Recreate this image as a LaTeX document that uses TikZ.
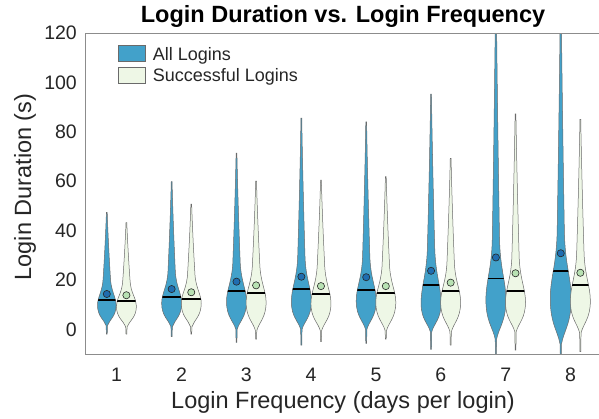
\documentclass[tikz,border=0pt]{standalone}
\usepackage{fontspec}
\setmainfont{Liberation Sans}
\definecolor{vblue}{HTML}{42A1CA}
\definecolor{vgreen}{HTML}{EEF7E6}
\definecolor{dblue}{HTML}{1F6DB0}
\definecolor{dgreen}{HTML}{B8E2B3}
\definecolor{axgray}{HTML}{8C8C8C}
\definecolor{vedge}{HTML}{6A6A6A}
\definecolor{txt}{HTML}{262626}
\newcommand\vcalc[9]{%
  \pgfmathsetmacro\yT{33+(120-#1)*2.4692}%
  \pgfmathsetmacro\yB{33+(120-#2)*2.4692}%
  \pgfmathsetmacro\yW{33+(120-#3)*2.4692}%
  \pgfmathsetmacro\hh{#4}%
  \pgfmathsetmacro\yN{33+(120-#5)*2.4692}%
  \pgfmathsetmacro\yP{33+(120-#6)*2.4692}%
  \pgfmathsetmacro\yM{33+(120-#7)*2.4692}%
  \pgfmathsetmacro\yA{33+(120-#8)*2.4692}%
  \pgfmathsetmacro\dP{\yP-\yW}%
  \pgfmathsetmacro\dN{\yW-\yN}%
  \pgfmathsetmacro\dT{\yN-\yT}%
  \def\nh{3.6}%
  \def\vp{(\cx+0.4,\yB) -- (\cx+0.7,\yP)
    .. controls (\cx+0.3*\hh,\yP-0.3*\dP) and (\cx+\hh,\yW+0.55*\dP) .. (\cx+\hh,\yW)
    .. controls (\cx+\hh,\yW-0.3*\dN) and (\cx+\nh+0.05*\hh,\yN+0.5*\dN) .. (\cx+\nh,\yN)
    .. controls (\cx+0.6*\nh,\yN-0.35*\dT) and (\cx+0.9,\yT+0.25*\dT) .. (\cx+0.4,\yT)
    -- (\cx-0.4,\yT)
    .. controls (\cx-0.9,\yT+0.25*\dT) and (\cx-0.6*\nh,\yN-0.35*\dT) .. (\cx-\nh,\yN)
    .. controls (\cx-\nh-0.05*\hh,\yN+0.5*\dN) and (\cx-\hh,\yW-0.3*\dN) .. (\cx-\hh,\yW)
    .. controls (\cx-\hh,\yW+0.55*\dP) and (\cx-0.3*\hh,\yP-0.3*\dP) .. (\cx-0.7,\yP)
    -- (\cx-0.4,\yB) -- cycle}%
}
\begin{document}
\begin{tikzpicture}[x=1pt,y=-1pt,
  violinedge/.style={draw=vedge,line width=0.5},
  medline/.style={black,line width=1.8},
  meandot/.style={draw=black!85,line width=0.6},
  axisline/.style={axgray,line width=0.8},
  ticklab/.style={inner sep=0,text=txt,font=\fontsize{19.5}{20}\selectfont},
  axlab/.style={inner sep=0,text=txt,font=\fontsize{23.5}{24}\selectfont},
  legtext/.style={inner sep=0,anchor=base west,text=txt,font=\fontsize{18}{19}\selectfont},
  legbox/.style={draw=vedge,line width=0.6}]
\useasboundingbox (0,0) rectangle (599,418);
\fill[white] (0,0) rectangle (599,418);
\coordinate (tl) at (85,33);
\coordinate (bl) at (85,354);
\coordinate (tr) at (599,33);
\coordinate (br) at (599,354);
\begin{scope}
\clip (tl) rectangle (br);
% All logins
\foreach \i/\t/\b/\w/\h/\n/\p/\m/\a in {
 1/47.4/-1.9/9.8/9.3/21/1.5/11.9/14.3,
 2/59.8/-3/10.6/10/24/1/13/16.3,
 3/71.4/-5.3/11.2/10/28/0/15.6/19.3,
 4/85.5/-6.4/11.2/10/30/0/16.2/21.3,
 5/84/-5.7/11.5/10/30/0/15.9/21.1,
 6/95.2/-8.1/10.5/10/34/-1/17.9/23.7,
 7/135/-12/12/10/37/-4/20.6/29.1,
 8/135/-12/12.5/10.5/40/-6/23.7/30.8}{
  \pgfmathsetmacro\cx{116.6+(\i-1)*64.85-9.8}
  \vcalc{\t}{\b}{\w}{\h}{\n}{\p}{\m}{\a}{}
  \path[fill=vblue,violinedge] \vp;
  \begin{scope}\clip \vp; \draw[medline] (\cx-15,\yM) -- (\cx+15,\yM);\end{scope}
  \node[circle,minimum size=7.2,inner sep=0,fill=dblue,meandot] (ma\i) at (\cx,\yA) {};
}
% Successful logins
\foreach \i/\t/\b/\w/\h/\n/\p/\m/\a in {
 1/43.2/-1.9/9.4/10/20/1/11.6/13.8,
 2/50.7/-1.9/10.6/10/23/1/12.4/15,
 3/60/-4/11/10/27/-0.5/14.8/17.8,
 4/60.4/-5/10.5/10/27/-0.5/14.3/17.5,
 5/61.8/-4/11/10/27/-0.5/14.8/17.5,
 6/69.2/-6.4/11/10/28/-1/15.6/18.9,
 7/87.2/-8.4/11/10/30/-1/15.6/22.7,
 8/85/-9/11.5/10/32/-1.5/17.9/22.9}{
  \pgfmathsetmacro\cx{116.6+(\i-1)*64.85+9.8}
  \vcalc{\t}{\b}{\w}{\h}{\n}{\p}{\m}{\a}{}
  \path[fill=vgreen,violinedge] \vp;
  \begin{scope}\clip \vp; \draw[medline] (\cx-15,\yM) -- (\cx+15,\yM);\end{scope}
  \node[circle,minimum size=7.2,inner sep=0,fill=dgreen,meandot] (ms\i) at (\cx,\yA) {};
}
\end{scope}
% axes
\draw[axisline] (tr) -- (tl) -- (bl) -- (br);
% y tick labels
\foreach \v in {0,20,...,120}{
  \node[ticklab,anchor=east] (yt\v) at (77,{33+(120-\v)*2.4692}) {\v};
}
% x tick labels
\foreach \i in {1,...,8}{
  \node[ticklab,anchor=base] (xt\i) at ({116.6+(\i-1)*64.85},381.7) {\i};
}
\node[axlab,anchor=base] (xlab) at (343,408) {Login Frequency (days per login)};
\node[axlab,anchor=base,rotate=90] (ylab) at (31,187) {Login Duration (s)};
\node[inner sep=0,anchor=base,font=\bfseries\fontsize{23.5}{24}\selectfont] (title) at (343,22.7) {Login Duration vs. Login Frequency};
% legend
\draw[legbox,fill=vblue] (118,45) rectangle (145,61);
\draw[legbox,fill=vgreen] (118,67) rectangle (145,83);
\node[legtext] (l1) at (152.7,60) {All Logins};
\node[legtext] (l2) at (152.7,81.7) {Successful Logins};
\end{tikzpicture}
\end{document}
